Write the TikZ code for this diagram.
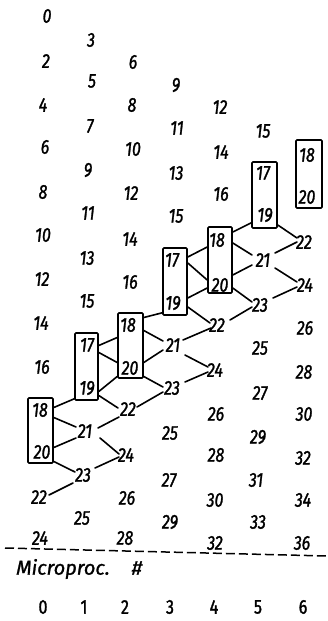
\documentclass[tikz,border=0pt]{standalone}
\usepackage{fontspec}
\setmainfont{Fira Sans}
\newfontfamily\handfont{Fira Sans}[FakeStretch=0.8, FakeBold=1.4]
\newfontfamily\labelfont{Fira Sans}[FakeBold=1.2]
\usetikzlibrary{calc}

\begin{document}
\begin{tikzpicture}[x=1pt,y=-1pt,
  num/.style={font=\handfont\itshape\fontsize{20}{20}\selectfont, inner sep=0pt},
  proc/.style={font=\handfont\fontsize{20}{20}\selectfont, inner sep=0pt},
  cell/.style={draw, line width=1.6pt, rounded corners=1pt, inner sep=0pt,
               minimum width=24pt, minimum height=66pt},
  link/.style={line width=1.6pt, line cap=round},
  sep/.style={line width=1.5pt, dash pattern=on 9pt off 4pt}]
\useasboundingbox (0,0) rectangle (327,621);

% boxed pairs (one per processor)
\node[cell, minimum width=25pt, minimum height=65pt] (B0) at (40.5,430.5) {};
\node[cell, minimum width=23pt, minimum height=67pt] (B1) at (86.5,366.5) {};
\node[cell, minimum width=25pt, minimum height=65pt] (B2) at (130.5,345.5) {};
\node[cell, minimum height=67pt] (B3) at (175,281.5) {};
\node[cell] (B4) at (220,260) {};
\node[cell, minimum width=25pt] (B5) at (264.5,195) {};
\node[cell, minimum width=26pt, minimum height=68pt] (B6) at (309,174) {};

% column 0
\foreach \v/\x/\y in {0/47/16, 2/46/61, 4/43/105, 6/45/147, 8/43/192, 10/43/235,
  12/42/279, 14/41/323, 16/42/367, 18/40/410, 20/42/452, 22/39/497, 24/40/538}
  \node[num] (c0n\v) at (\x,\y) {\v};
% column 1
\foreach \v/\x/\y in {3/91/40, 5/92/81, 7/90/126, 9/88/170, 11/88/213, 13/87/258,
  15/87/301, 17/87/345, 19/87/388, 21/85/431, 23/83/475, 25/82/518}
  \node[num] (c1n\v) at (\x,\y) {\v};
% column 2
\foreach \v/\x/\y in {6/133/62, 8/132/105, 10/133/149, 12/131/193, 14/130/239,
  16/130/282, 18/128/325, 20/130/368, 22/128/409, 24/126/455, 26/127/498, 28/125/538}
  \node[num] (c2n\v) at (\x,\y) {\v};
% column 3
\foreach \v/\x/\y in {9/176/85, 11/177/128, 13/176/173, 15/176/216, 17/172/260,
  19/173/303, 21/173/345, 23/172/388, 25/170/433, 27/169/480, 29/170/522}
  \node[num] (c3n\v) at (\x,\y) {\v};
% column 4
\foreach \v/\x/\y in {12/220/107, 14/221/152, 16/221/194, 18/217/240, 20/220/285,
  22/217/325, 24/215/370, 26/216/414, 28/216/455, 30/215/500, 32/215/543}
  \node[num] (c4n\v) at (\x,\y) {\v};
% column 5
\foreach \v/\x/\y in {15/263/131, 17/263/173, 19/265/215, 21/263/260, 23/260/305,
  25/260/348, 27/260/393, 29/258/437, 31/256/480, 33/258/522}
  \node[num] (c5n\v) at (\x,\y) {\v};
% column 6
\foreach \v/\x/\y in {18/307/155, 20/307/197, 22/304/242, 24/305/285, 26/305/328,
  28/304/372, 30/304/414, 32/303/458, 34/303/500, 36/302/543}
  \node[num] (c6n\v) at (\x,\y) {\v};

% processor 0 -> 1
\draw[link] ($(B0.east)+(0,-23)$) -- ($(B1.south west)+(0,-2)$);
\draw[link] ($(B0.east)+(0,-13)$) -- ($(c1n21)+(-9,-4)$);
\draw[link] ($(B0.east)+(0,17)$) -- ($(c1n21)+(-9,7)$);
\draw[link] ($(B0.east)+(0,31)$) -- ($(c1n23)+(-8,-3)$);
\draw[link] ($(c0n22)+(10,-2)$) -- ($(c1n23)+(-10,8)$);
% processor 1 -> 2
\draw[link] ($(B1.east)+(0,-21)$) -- ($(B2.west)+(0,-8)$);
\draw[link] ($(B1.east)+(0,-14)$) -- ($(B2.west)+(0,17)$);
\draw[link] ($(B1.east)+(0,25)$) -- ($(B2.west)+(0,31)$);
\draw[link] ($(B1.east)+(0,29)$) -- ($(c2n22)+(-10,-1)$);
\draw[link] ($(c1n21)+(13,-3)$) -- ($(c2n22)+(-9,8)$);
\draw[link] ($(c1n21)+(15,7)$) -- ($(c2n24)+(-7,-1)$);
\draw[link] ($(c1n23)+(12,-7)$) -- ($(c2n24)+(-7,2)$);
% processor 2 -> 3
\draw[link] ($(B2.east)+(0,-28)$) -- ($(B3.south west)+(0,-3)$);
\draw[link] ($(B2.east)+(0,-15)$) -- ($(c3n21)+(-10,-4)$);
\draw[link] ($(B2.east)+(0,17)$) -- ($(c3n21)+(-10,5)$);
\draw[link] ($(B2.east)+(0,31)$) -- ($(c3n23)+(-9,-1)$);
\draw[link] ($(c2n22)+(9,-2)$) -- ($(c3n23)+(-9,4)$);
% processor 3 -> 4
\draw[link] ($(B3.east)+(0,-24.5)$) -- ($(B4.west)+(0,-13)$);
\draw[link] ($(B3.east)+(0,-18.5)$) -- ($(B4.west)+(0,20)$);
\draw[link] ($(B3.east)+(0,16.5)$) -- ($(B4.west)+(0,28)$);
\draw[link] ($(B3.east)+(0,25.5)$) -- ($(c4n22)+(-7,-2)$);
\draw[link] ($(c3n21)+(10,-5)$) -- ($(c4n22)+(-6,3)$);
\draw[link] ($(c3n21)+(12,10)$) -- ($(c4n24)+(-7,-3)$);
\draw[link] ($(c3n23)+(13,-6)$) -- ($(c4n24)+(-7,2)$);
% processor 4 -> 5
\draw[link] ($(B4.east)+(0,-28)$) -- ($(B5.south west)+(0,-6)$);
\draw[link] ($(B4.east)+(0,-17)$) -- ($(c5n21)+(-11,-5)$);
\draw[link] ($(B4.east)+(0,15)$) -- ($(c5n21)+(-11,5)$);
\draw[link] ($(B4.east)+(0,28)$) -- ($(c5n23)+(-8,-3)$);
\draw[link] ($(c4n22)+(13,-5)$) -- ($(c5n23)+(-8,2)$);
% processor 5 -> 6
\draw[link] ($(B5.east)+(0,30)$) -- ($(c6n22)+(-7,-4)$);
\draw[link] ($(c5n21)+(12,-7)$) -- ($(c6n22)+(-7,0)$);
\draw[link] ($(c5n21)+(12,8)$) -- ($(c6n24)+(-8,-3)$);
\draw[link] ($(c5n23)+(13,-7)$) -- ($(c6n24)+(-8,2)$);

% separator and processor axis
\coordinate (sepL) at (5,548);
\coordinate (sepR) at (327,556);
\draw[sep] (sepL) -- (sepR);
\node[font=\labelfont\itshape\fontsize{20}{20}\selectfont, inner sep=0pt, anchor=west]
  (axislabel) at (16,569) {Microproc.\hspace{22pt}\#};
\foreach \p/\x in {0/43, 1/84, 2/125, 3/170, 4/214, 5/258, 6/303}
  \node[proc] (p\p) at (\x,607) {\p};
\end{tikzpicture}
\end{document}
